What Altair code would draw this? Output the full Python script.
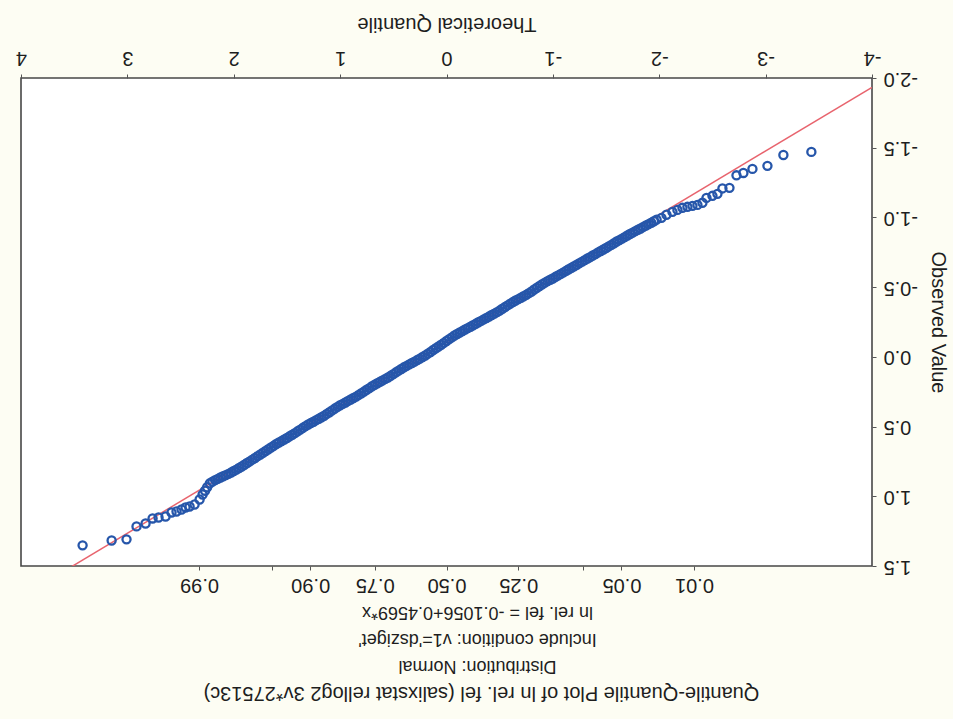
import altair as alt
import pandas as pd
from statistics import NormalDist

# Lower tail: theoretical normal quantile and observed value of ln rel. fel
tail_low_q = [-3.430, -3.167, -3.017, -2.876, -2.791, -2.726, -2.660, -2.594, -2.547, -2.500,
              -2.444, -2.406, -2.359, -2.312, -2.265, -2.218, -2.171, -2.124, -2.068, -2.021]
tail_low_v = [-1.470, -1.448, -1.370, -1.348, -1.319, -1.302, -1.212, -1.208, -1.169, -1.155,
              -1.140, -1.105, -1.090, -1.083, -1.076, -1.069, -1.054, -1.040, -1.019, -0.997]

# Central part of the sample (dense run of points)
band_q = [-1.975, -1.95, -1.925, -1.9, -1.875, -1.85, -1.825, -1.8, -1.775, -1.75,
          -1.725, -1.7, -1.675, -1.65, -1.625, -1.6, -1.575, -1.55, -1.525, -1.5,
          -1.475, -1.45, -1.425, -1.4, -1.375, -1.35, -1.325, -1.3, -1.275, -1.25,
          -1.225, -1.2, -1.175, -1.15, -1.125, -1.1, -1.075, -1.05, -1.025, -1.0,
          -0.975, -0.95, -0.925, -0.9, -0.875, -0.85, -0.825, -0.8, -0.775, -0.75,
          -0.725, -0.7, -0.675, -0.65, -0.625, -0.6, -0.575, -0.55, -0.525, -0.5,
          -0.475, -0.45, -0.425, -0.4, -0.375, -0.35, -0.325, -0.3, -0.275, -0.25,
          -0.225, -0.2, -0.175, -0.15, -0.125, -0.1, -0.075, -0.05, -0.025, 0.0,
          0.025, 0.05, 0.075, 0.1, 0.125, 0.15, 0.175, 0.2, 0.225, 0.25,
          0.275, 0.3, 0.325, 0.35, 0.375, 0.4, 0.425, 0.45, 0.475, 0.5,
          0.525, 0.55, 0.575, 0.6, 0.625, 0.65, 0.675, 0.7, 0.725, 0.75,
          0.775, 0.8, 0.825, 0.85, 0.875, 0.9, 0.925, 0.95, 0.975, 1.0,
          1.025, 1.05, 1.075, 1.1, 1.125, 1.15, 1.175, 1.2, 1.225, 1.25,
          1.275, 1.3, 1.325, 1.35, 1.375, 1.4, 1.425, 1.45, 1.475, 1.5,
          1.525, 1.55, 1.575, 1.6, 1.625, 1.65, 1.675, 1.7, 1.725, 1.75,
          1.775, 1.8, 1.825, 1.85, 1.875, 1.9, 1.925, 1.95, 1.975, 2.0,
          2.025, 2.05, 2.075, 2.1, 2.125, 2.15, 2.175, 2.2, 2.225, 2.25,
          2.27]
band_v = [-0.984, -0.973, -0.962, -0.952, -0.942, -0.932, -0.921, -0.912, -0.902, -0.891,
          -0.881, -0.870, -0.859, -0.848, -0.837, -0.827, -0.815, -0.803, -0.792, -0.781,
          -0.770, -0.759, -0.749, -0.737, -0.727, -0.715, -0.705, -0.694, -0.683, -0.672,
          -0.661, -0.650, -0.639, -0.628, -0.617, -0.606, -0.595, -0.584, -0.574, -0.562,
          -0.553, -0.543, -0.532, -0.521, -0.508, -0.496, -0.483, -0.469, -0.457, -0.445,
          -0.435, -0.424, -0.414, -0.404, -0.393, -0.382, -0.369, -0.357, -0.345, -0.332,
          -0.321, -0.310, -0.300, -0.289, -0.279, -0.269, -0.258, -0.248, -0.237, -0.227,
          -0.216, -0.206, -0.196, -0.185, -0.175, -0.164, -0.153, -0.140, -0.127, -0.114,
          -0.100, -0.087, -0.074, -0.062, -0.049, -0.035, -0.023, -0.010, 0.001, 0.013,
          0.023, 0.034, 0.044, 0.054, 0.065, 0.075, 0.087, 0.099, 0.111, 0.124,
          0.136, 0.148, 0.158, 0.169, 0.179, 0.189, 0.200, 0.211, 0.224, 0.236,
          0.249, 0.261, 0.273, 0.285, 0.295, 0.306, 0.316, 0.327, 0.337, 0.347,
          0.359, 0.371, 0.384, 0.397, 0.409, 0.422, 0.433, 0.444, 0.454, 0.465,
          0.475, 0.485, 0.497, 0.509, 0.522, 0.534, 0.547, 0.559, 0.570, 0.582,
          0.593, 0.604, 0.614, 0.625, 0.638, 0.650, 0.663, 0.675, 0.688, 0.700,
          0.712, 0.725, 0.737, 0.750, 0.761, 0.774, 0.786, 0.797, 0.809, 0.819,
          0.830, 0.839, 0.848, 0.856, 0.865, 0.875, 0.884, 0.895, 0.907, 0.935,
          0.960]

# Upper tail
tail_high_q = [2.293, 2.321, 2.368, 2.415, 2.453, 2.491, 2.538, 2.585, 2.641, 2.707,
               2.763, 2.829, 2.914, 3.008, 3.148, 3.421]
tail_high_v = [0.987, 1.023, 1.059, 1.073, 1.080, 1.095, 1.109, 1.116, 1.145, 1.152,
               1.159, 1.195, 1.216, 1.309, 1.317, 1.352]

# Fitted reference line: ln rel. fel = intercept + slope * x
intercept = -0.1056
slope = 0.4569
fit_q = [-4.0, 4.0]

# Axis ticks
quantile_ticks = [-4, -3, -2, -1, 0, 1, 2, 3, 4]
value_ticks = [-2.0, -1.5, -1.0, -0.5, 0.0, 0.5, 1.0, 1.5]
prob_ticks = [0.01, 0.05, 0.10, 0.25, 0.50, 0.75, 0.90, 0.95, 0.99]
prob_labels = ["0.01", "0.05", "0.25", "0.50", "0.75", "0.90", "0.99"]

main_title = "Quantile-Quantile Plot of ln rel. fel (salixstat rellog2 3v*27513c)"
info_lines = [
    "Distribution: Normal",
    "Include condition: v1='dsziget'",
    "ln rel. fel = -0.1056+0.4569*x",
]

points = pd.DataFrame({
    "q": tail_low_q + band_q + tail_high_q,
    "v": tail_low_v + band_v + tail_high_v,
})
fit = pd.DataFrame({"q": fit_q})
prob_z = [NormalDist().inv_cdf(p) for p in prob_ticks]

FONT = "Liberation Sans"
INK = "#1e1e1e"

x_scale = alt.Scale(domain=[-4, 4], reverse=True, nice=False, zero=False)
y_scale = alt.Scale(domain=[-2.0, 1.5], reverse=True, nice=False, zero=False)

signed = "(datum.value < 0 ? '-' : '') + format(abs(datum.value), '{fmt}')"

y_axis = alt.Axis(
    orient="right", values=value_ticks, labelExpr=signed.format(fmt=".1f"),
    labelAngle=180, labelAlign="right", labelBaseline="middle",
    tickSize=4, labelPadding=7, domain=False, grid=False,
    title="Observed Value", titleAngle=90, titlePadding=10,
)
top_axis = alt.Axis(
    orient="top", values=quantile_ticks, labelExpr=signed.format(fmt="d"),
    labelAngle=180, labelAlign="center", labelBaseline="top",
    tickSize=4, labelPadding=7, domain=False, grid=False,
    title="Theoretical Quantile", titleAngle=180, titleBaseline="top", titlePadding=14,
)
prob_expr = (
    "indexof(" + str(prob_labels) + ", format(cumulativeNormal(datum.value), '.2f')) >= 0"
    " ? format(cumulativeNormal(datum.value), '.2f') : ''"
)
# probability scale along the bottom, with the distribution notes as its title block
bottom_axis = alt.Axis(
    orient="bottom", values=prob_z, labelExpr=prob_expr,
    labelAngle=180, labelAlign="center", labelBaseline="alphabetic",
    tickSize=4, labelPadding=8, domain=False, grid=False,
    title=info_lines, titleAngle=180, titleAlign="center", titleBaseline="alphabetic",
    titleFontSize=18, titleLineHeight=27, titleX=456, titleY=94,
)

fit_line = alt.Chart(fit).transform_calculate(
    v=f"{intercept} + {slope} * datum.q"
).mark_line(color="#e8646e", strokeWidth=1.5, clip=True).encode(
    x=alt.X("q:Q", scale=x_scale, axis=top_axis),
    y=alt.Y("v:Q", scale=y_scale, axis=y_axis),
)

dots = alt.Chart(points).mark_point(
    shape="circle", filled=False, size=66, strokeWidth=2.3, color="#2656aa", opacity=1
).encode(
    x=alt.X("q:Q", scale=x_scale, axis=bottom_axis),
    y=alt.Y("v:Q", scale=y_scale, axis=y_axis),
)

chart = alt.layer(fit_line, dots).resolve_scale(x="independent").properties(
    width=851,
    height=488,
    autosize=alt.AutoSizeParams(type="none"),
    padding={"left": 21, "top": 78, "right": 81, "bottom": 153},
    background="#fdfdf3",
    title=alt.TitleParams(
        text=main_title, orient="bottom", angle=180, anchor="middle", frame="bounds",
        baseline="alphabetic", font=FONT, fontSize=20, fontWeight="normal",
        offset=13, color=INK,
    ),
).configure_view(
    fill="white", stroke="#474747", strokeWidth=1.6
).configure_axis(
    labelFont=FONT, labelFontSize=20, labelColor=INK,
    titleFont=FONT, titleFontSize=20, titleFontWeight="normal", titleColor=INK,
    tickColor="#555555", tickWidth=1,
)

chart.save("out.html", embed_options={"renderer": "svg", "actions": False})
